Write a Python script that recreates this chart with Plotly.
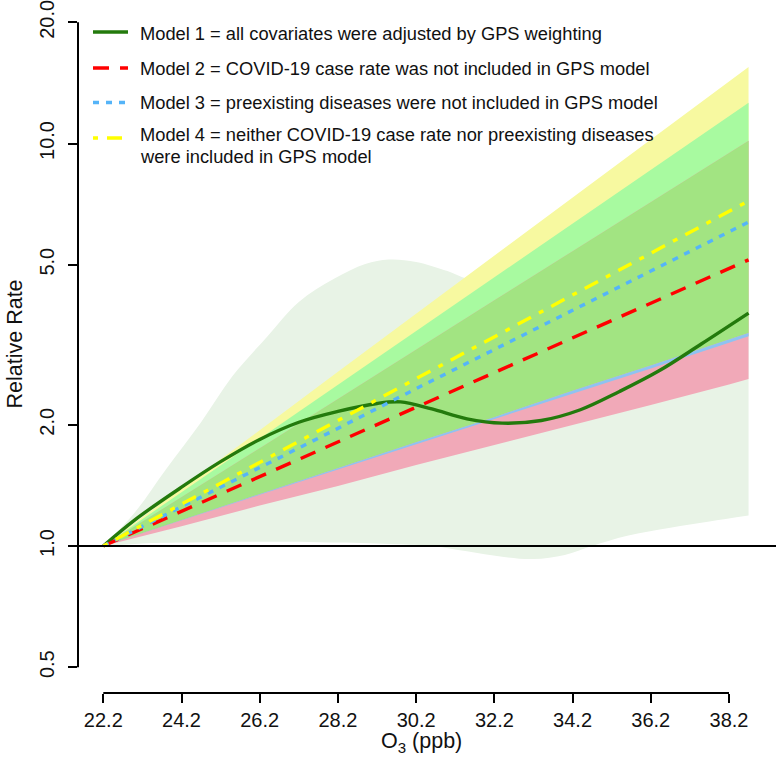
import plotly.graph_objects as go

# ---------------- data ----------------
x_lin = [22.2, 24.2, 26.2, 28.2, 30.2, 32.2, 34.2, 36.2, 38.2, 38.7]
m2 = [1.00, 1.22, 1.49, 1.81, 2.21, 2.70, 3.29, 4.01, 4.89, 5.14]
m3 = [1.00, 1.25, 1.57, 1.96, 2.46, 3.07, 3.85, 4.82, 6.03, 6.38]
m4 = [1.00, 1.27, 1.61, 2.05, 2.60, 3.31, 4.20, 5.34, 6.78, 7.20]

m2_lo = [1.00, 1.12, 1.26, 1.41, 1.59, 1.78, 2.00, 2.24, 2.52, 2.60]
m2_hi = [1.00, 1.32, 1.75, 2.32, 3.08, 4.08, 5.40, 7.15, 9.47, 10.16]
m3_lo = [1.00, 1.16, 1.34, 1.55, 1.79, 2.07, 2.39, 2.76, 3.20, 3.32]
m3_hi = [1.00, 1.36, 1.85, 2.51, 3.42, 4.65, 6.32, 8.60, 11.69, 12.63]
m4_lo = [1.00, 1.16, 1.345, 1.56, 1.81, 2.09, 2.43, 2.81, 3.26, 3.38]
m4_hi = [1.00, 1.39, 1.94, 2.71, 3.78, 5.27, 7.34, 10.24, 14.27, 15.50]

x_m1 = [22.2, 23.0, 24.2, 25.2, 26.2, 27.2, 28.2, 29.2, 29.8, 30.6, 31.5, 32.4,
        33.4, 34.4, 35.4, 36.4, 37.5, 38.7]
m1 = [1.00, 1.16, 1.40, 1.62, 1.84, 2.03, 2.16, 2.26, 2.28, 2.19, 2.07, 2.02,
      2.05, 2.18, 2.42, 2.72, 3.18, 3.79]

x_m1_hi = [22.2, 23.0, 23.8, 24.7, 25.5, 26.4, 27.2, 28.1, 28.9, 29.5, 30.2, 31.0,
           31.5, 32.4, 33.4, 34.4, 35.4, 36.4, 37.5, 38.7]
m1_hi = [1.00, 1.21, 1.55, 2.03, 2.64, 3.32, 4.04, 4.61, 5.02, 5.15, 5.08, 4.82,
         4.61, 4.45, 4.50, 4.80, 5.15, 5.90, 6.80, 7.70]
x_m1_lo = [22.2, 23.2, 24.2, 26.2, 28.2, 29.7, 30.6, 31.5, 32.4, 33.2, 34.0, 34.7,
           35.6, 36.7, 37.7, 38.7]
m1_lo = [1.00, 1.015, 1.02, 1.025, 1.02, 1.01, 1.00, 0.97, 0.94, 0.928, 0.95, 1.00,
         1.06, 1.11, 1.15, 1.19]

x_ticks = [22.2, 24.2, 26.2, 28.2, 30.2, 32.2, 34.2, 36.2, 38.2]
x_ticktext = ["22.2", "24.2", "26.2", "28.2", "30.2", "32.2", "34.2", "36.2", "38.2"]
y_ticks = [0.5, 1, 2, 5, 10, 20]
y_ticktext = ["0.5", "1.0", "2.0", "5.0", "10.0", "20.0"]

legend_labels = [
    "Model 1 = all covariates were adjusted by GPS weighting",
    "Model 2 = COVID-19 case rate was not included in GPS model",
    "Model 3 = preexisting diseases were not included in GPS model",
    "Model 4 = neither COVID-19 case rate nor preexisting diseases",
    "were included in GPS model",
]

# ---------------- styles ----------------
FONT = "Liberation Sans, Arial, Helvetica, sans-serif"
C_PALE = "#E8F3E6"
C_YEL = "#F7F9A0"
C_BRIGHT = "#A8FAA0"
C_PINK = "#F1A9B8"
C_MED = "#A2E482"
C_STRIP = "#8EC3F1"
L1 = dict(color="#237A0C", width=3.4)
L2 = dict(color="#FF0000", width=3.4, dash="16px,11px")
L3 = dict(color="#55B4F8", width=3.4, dash="6px,7px")
L4 = dict(color="#FFFF00", width=3.4, dash="5px,9px,15px,9px")

fig = go.Figure()


def band(xlo, lo, xhi, hi, color, shape="linear"):
    fig.add_trace(go.Scatter(x=xlo, y=lo, mode="lines", line=dict(width=0, shape=shape),
                             hoverinfo="skip", showlegend=False))
    fig.add_trace(go.Scatter(x=xhi, y=hi, mode="lines", line=dict(width=0, shape=shape),
                             fill="tonexty", fillcolor=color, hoverinfo="skip",
                             showlegend=False))


band(x_m1_lo, m1_lo, x_m1_hi, m1_hi, C_PALE, "spline")
band(x_lin, m4_lo, x_lin, m4_hi, C_YEL)
band(x_lin, m3_lo, x_lin, m3_hi, C_BRIGHT)
band(x_lin, m2_lo, x_lin, m2_hi, C_PINK)
band(x_lin, m4_lo, x_lin, m2_hi, C_MED)
band(x_lin, m3_lo, x_lin, m4_lo, C_STRIP)

fig.add_trace(go.Scatter(x=x_m1, y=m1, mode="lines", line=dict(shape="spline", **L1),
                         showlegend=False))
fig.add_trace(go.Scatter(x=x_lin, y=m2, mode="lines", line=L2, showlegend=False))
fig.add_trace(go.Scatter(x=x_lin, y=m3, mode="lines", line=L3, showlegend=False))
fig.add_trace(go.Scatter(x=x_lin, y=m4, mode="lines", line=L4, showlegend=False))

# ---------------- layout ----------------
W, H = 776, 774
ML, MR, MT = 78, 0, 0
PLOT_BOTTOM = 693
MB = H - PLOT_BOTTOM
PW, PH = W - ML - MR, PLOT_BOTTOM - MT


def px_x(px):  # pixel -> paper
    return (px - ML) / PW


def px_y(py):  # pixel -> paper
    return (PLOT_BOTTOM - py) / PH


PX_PER_DECADE = 402.5
Y_ONE = 546.0  # pixel of value 1.0
y_lo = -(PLOT_BOTTOM - Y_ONE) / PX_PER_DECADE
y_hi = (Y_ONE - MT) / PX_PER_DECADE

shapes = [
    dict(type="line", xref="paper", yref="y", x0=0, x1=1, y0=1, y1=1,
         line=dict(color="black", width=2), layer="above"),
    dict(type="line", xref="paper", yref="y", x0=0, x1=0, y0=0.5, y1=20,
         line=dict(color="black", width=2), layer="above"),
    dict(type="line", xref="x", yref="paper", x0=22.2, x1=38.2, y0=0, y1=0,
         line=dict(color="black", width=2), layer="above"),
]
annotations = []
sample_y = [32, 68, 102.5, 138]
text_y = [33, 68.5, 102.5, 134, 156]
styles = [L1, L2, L3, L4]
for sy, st in zip(sample_y, styles):
    shapes.append(dict(type="line", xref="paper", yref="paper",
                       x0=px_x(93), x1=px_x(128), y0=px_y(sy), y1=px_y(sy),
                       line=st, layer="above"))
for ty, lab in zip(text_y, legend_labels):
    annotations.append(dict(text=lab, xref="paper", yref="paper", x=px_x(137.5),
                            y=px_y(ty), xanchor="left", yanchor="middle",
                            showarrow=False, font=dict(size=18.3, color="#111111", family=FONT)))

annotations.append(dict(text="Relative Rate", xref="paper", yref="paper",
                        x=px_x(14.5), y=px_y(344), textangle=-90, showarrow=False,
                        xanchor="center", yanchor="middle",
                        font=dict(size=21.5, color="#111111", family=FONT)))
annotations.append(dict(text="O<sub>3</sub> (ppb)", xref="paper", yref="paper",
                        x=px_x(421), y=px_y(742), showarrow=False,
                        xanchor="center", yanchor="middle",
                        font=dict(size=21.5, color="#111111", family=FONT)))

x0 = 22.2 - (103.3 - ML) / 39.106
x1 = x0 + PW / 39.106
fig.update_layout(
    width=W, height=H,
    margin=dict(l=ML, r=MR, t=MT, b=MB, pad=0, autoexpand=False),
    paper_bgcolor="white", plot_bgcolor="white",
    font=dict(family=FONT, color="#111111"),
    showlegend=False,
    hovermode=False,
    xaxis=dict(range=[x0, x1], tickvals=x_ticks, ticktext=x_ticktext,
               showgrid=False, zeroline=False, showline=False, automargin=False,
               ticks="outside", ticklen=9, tickwidth=2, tickcolor="black",
               ticklabeloverflow="allow",
               tickfont=dict(size=20, color="#111111", family=FONT)),
    yaxis=dict(type="log", range=[y_lo, y_hi], tickvals=y_ticks, ticktext=y_ticktext,
               showgrid=False, zeroline=False, showline=False, automargin=False,
               ticks="outside", ticklen=9, tickwidth=2, tickcolor="black",
               tickangle=-90, ticklabeloverflow="allow", ticklabelstandoff=6,
               tickfont=dict(size=20, color="#111111", family=FONT)),
    shapes=shapes,
    annotations=annotations,
)

fig.write_html("out.html",
               config={"displayModeBar": False},
               post_script="document.body.style.margin='0px';document.body.style.overflow='hidden';")
